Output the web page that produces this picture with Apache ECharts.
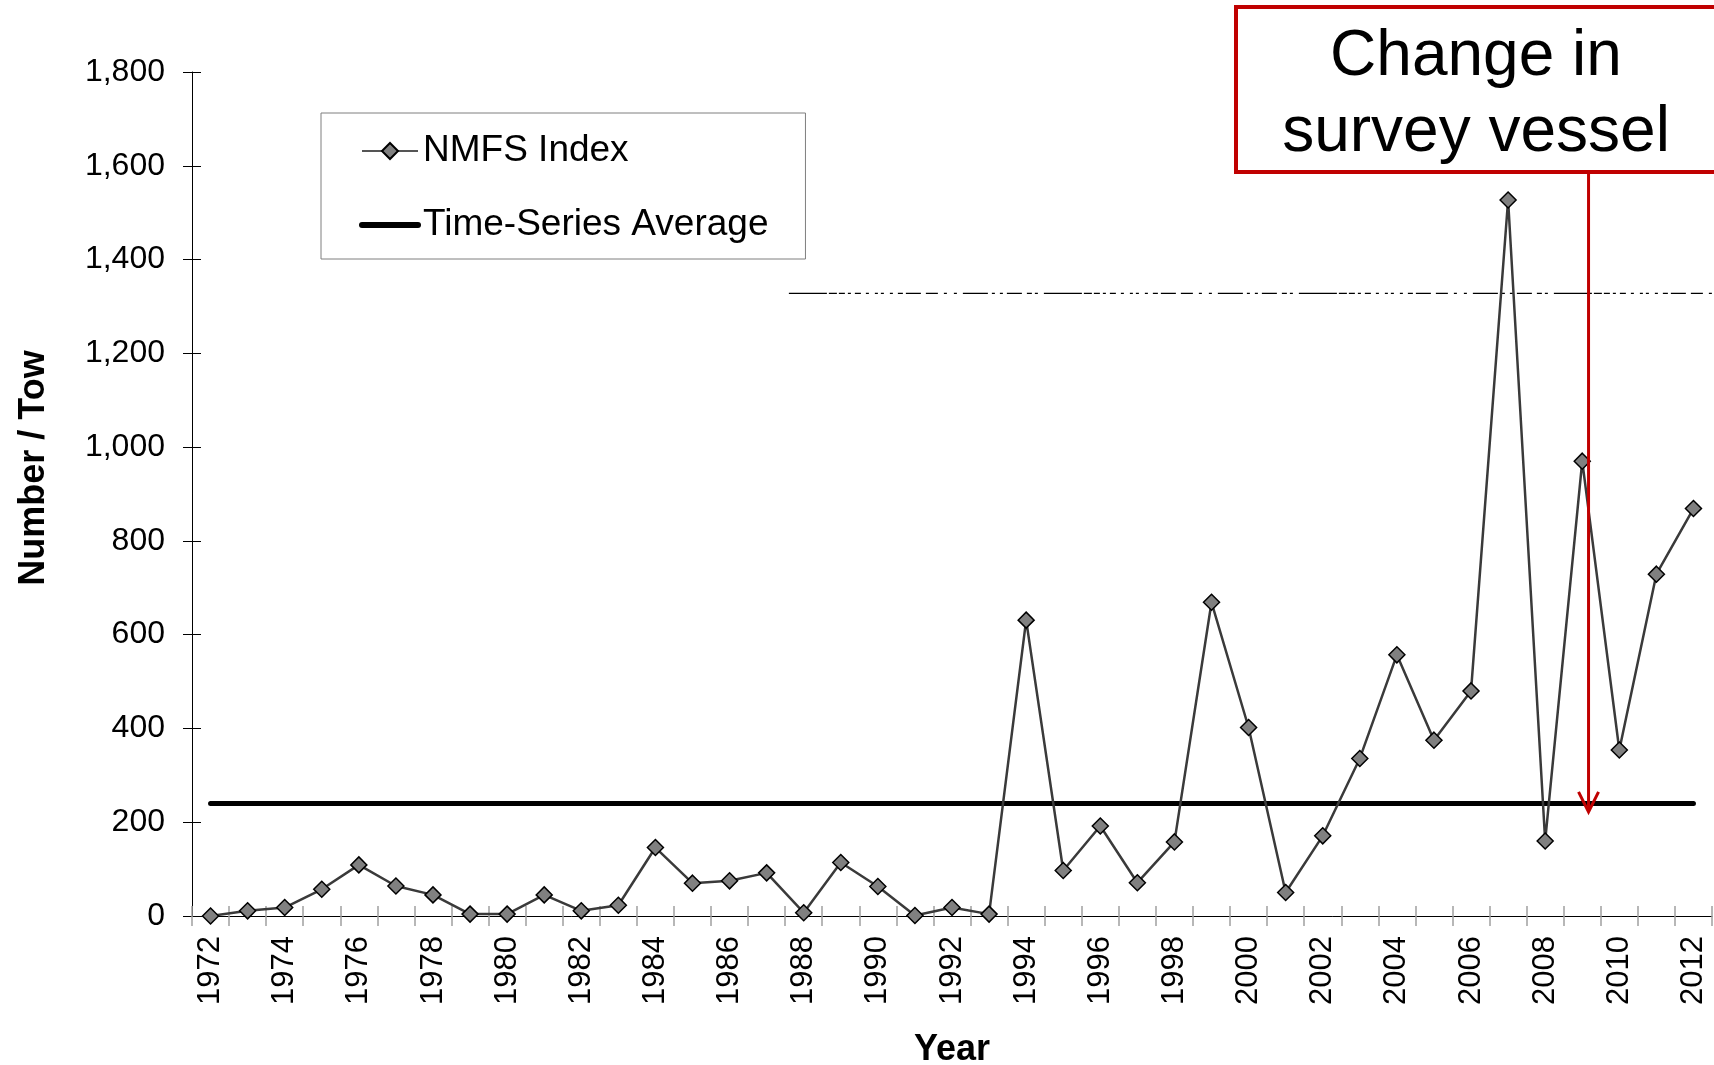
<!DOCTYPE html>
<html>
<head>
<meta charset="utf-8">
<script src="https://cdn.jsdelivr.net/npm/echarts@6/dist/echarts.min.js"></script>
<style>
  html, body { margin: 0; padding: 0; background: #fff; }
  #main { width: 1714px; height: 1065px; }
</style>
</head>
<body>
<div id="main"></div>
<script>
// survey years
const years = ['1972','1973','1974','1975','1976','1977','1978','1979','1980','1981',
  '1982','1983','1984','1985','1986','1987','1988','1989','1990','1991',
  '1992','1993','1994','1995','1996','1997','1998','1999','2000','2001',
  '2002','2003','2004','2005','2006','2007','2008','2009','2010','2011','2012'];

// NMFS index, number per tow
const nmfsIndex = [0, 11, 18, 57, 109, 64, 45, 4, 4, 45,
  11, 23, 146, 70, 75, 92, 7, 114, 63, 1,
  18, 4, 631, 97, 192, 71, 158, 669, 402, 50,
  171, 336, 557, 375, 480, 1527, 160, 970, 354, 729, 869];

// time-series average
const tsAverage = 240;
const avgLine = years.map(() => tsAverage);

// annotation bits
const vesselChangeYear = '2009';
const arrowTipValue = 222;
const oddLineValue = 1328;

const FONT = 'Liberation Sans, Arial, sans-serif';

let main = document.getElementById('main');
let myChart = echarts.init(main);

let option = {
  animation: false,
  backgroundColor: '#fff',
  grid: {
    left: 192,
    right: 2,
    top: 72,
    bottom: 149,
    outerBoundsMode: 'none'
  },
  legend: {
    orient: 'vertical',
    left: 321,
    top: 113,
    padding: [18, 37, 14, 38],
    itemGap: 34,
    itemWidth: 56,
    itemHeight: 20,
    borderColor: '#7f7f7f',
    borderWidth: 1,
    textStyle: { fontFamily: FONT, fontSize: 37, color: '#000', lineHeight: 40 },
    data: [
      { name: 'NMFS Index', lineStyle: { width: 2, color: '#555' } },
      { name: 'Time-Series Average', lineStyle: { width: 6, cap: 'round' }, itemStyle: { opacity: 0 } }
    ]
  },
  xAxis: [
    {
      type: 'category',
      data: years,
      name: 'Year',
      nameLocation: 'middle',
      nameGap: 116,
      nameTextStyle: { fontFamily: FONT, fontSize: 36, fontWeight: 'bold', color: '#000' },
      axisLine: { lineStyle: { color: '#000', width: 1 } },
      axisTick: { show: true, interval: 0, length: 10, lineStyle: { color: '#a0a0a0', width: 1.5 } },
      axisLabel: {
        interval: 1,
        rotate: 90,
        margin: 20,
        fontFamily: FONT,
        fontSize: 31,
        color: '#000'
      },
      splitLine: { show: false }
    },
    {
      // inner half of the crossing ticks
      type: 'category',
      data: years,
      position: 'bottom',
      axisLine: { show: false },
      axisTick: { show: true, inside: true, interval: 0, length: 10, lineStyle: { color: '#a0a0a0', width: 1.5 } },
      axisLabel: { show: false },
      splitLine: { show: false }
    }
  ],
  yAxis: [
    {
      type: 'value',
      min: 0,
      max: 1800,
      interval: 200,
      name: 'Number / Tow',
      nameLocation: 'middle',
      nameRotate: 90,
      nameGap: 140,
      nameTextStyle: {
        fontFamily: FONT, fontSize: 36, fontWeight: 'bold', color: '#000',
        padding: [0, 0, 0, 52]
      },
      axisLine: { show: true, lineStyle: { color: '#000', width: 1 } },
      axisTick: { show: true, length: 9, lineStyle: { color: '#000' } },
      axisLabel: {
        margin: 27,
        fontFamily: FONT,
        fontSize: 32,
        color: '#000',
        formatter: v => v.toLocaleString('en-US')
      },
      splitLine: { show: false }
    },
    {
      type: 'value',
      min: 0,
      max: 1800,
      interval: 200,
      position: 'left',
      axisLine: { show: false },
      axisTick: { show: true, inside: true, length: 9, lineStyle: { color: '#000' } },
      axisLabel: { show: false },
      splitLine: { show: false }
    }
  ],
  series: [
    {
      name: 'Time-Series Average',
      type: 'line',
      data: avgLine,
      symbol: 'none',
      lineStyle: { color: '#000', width: 5, cap: 'round' },
      itemStyle: { color: '#000' },
      z: 2
    },
    {
      name: 'NMFS Index',
      type: 'line',
      data: nmfsIndex,
      symbol: 'diamond',
      symbolSize: 16,
      lineStyle: { color: '#3a3a3a', width: 2.5 },
      itemStyle: { color: '#808080', borderColor: '#000', borderWidth: 1.5 },
      z: 3
    }
  ]
};

myChart.setOption(option);

// annotation: red box with arrow pointing at the vessel change
const band = myChart.convertToPixel({ xAxisIndex: 0 }, '1973') - myChart.convertToPixel({ xAxisIndex: 0 }, '1972');
const arrowX = myChart.convertToPixel({ xAxisIndex: 0 }, vesselChangeYear) + band * 0.17;
const tipY = myChart.convertToPixel({ yAxisIndex: 0 }, arrowTipValue);
const oddY = myChart.convertToPixel({ yAxisIndex: 0 }, oddLineValue);
const oddX0 = myChart.convertToPixel({ xAxisIndex: 0 }, '1988') - band * 0.4;
const boxBottom = 172;

myChart.setOption({
  graphic: [
    {
      type: 'line',
      z: 1,
      shape: { x1: oddX0, y1: oddY, x2: 1714, y2: oddY },
      style: {
        stroke: '#000', lineWidth: 1.3,
        lineDash: [38, 2, 8, 2, 6, 3, 3, 4, 6, 5, 3, 6, 3, 3, 3, 6, 3, 5, 5, 3,
          15, 5, 12, 6, 3, 7, 3, 6, 25, 4, 3, 5, 3, 4, 15, 5, 5, 3, 3, 6]
      }
    },
    {
      type: 'rect',
      z: 10,
      shape: { x: 1236, y: 7, width: 482, height: boxBottom - 7 },
      style: { fill: '#fff', stroke: '#c00000', lineWidth: 4 }
    },
    {
      type: 'text',
      z: 11,
      x: 1476,
      y: 95,
      style: {
        text: 'Change in\nsurvey vessel',
        font: '64px ' + FONT,
        lineHeight: 76,
        fill: '#000',
        align: 'center',
        verticalAlign: 'middle'
      }
    },
    {
      type: 'line',
      z: 10,
      shape: { x1: arrowX, y1: boxBottom, x2: arrowX, y2: tipY },
      style: { stroke: '#c00000', lineWidth: 3 }
    },
    {
      type: 'polyline',
      z: 10,
      shape: { points: [[arrowX - 10, tipY - 20], [arrowX, tipY], [arrowX + 10, tipY - 20]] },
      style: { stroke: '#c00000', lineWidth: 3, fill: null }
    }
  ]
});

window.onresize = function () {
  myChart.resize();
};
</script>
</body>
</html>
